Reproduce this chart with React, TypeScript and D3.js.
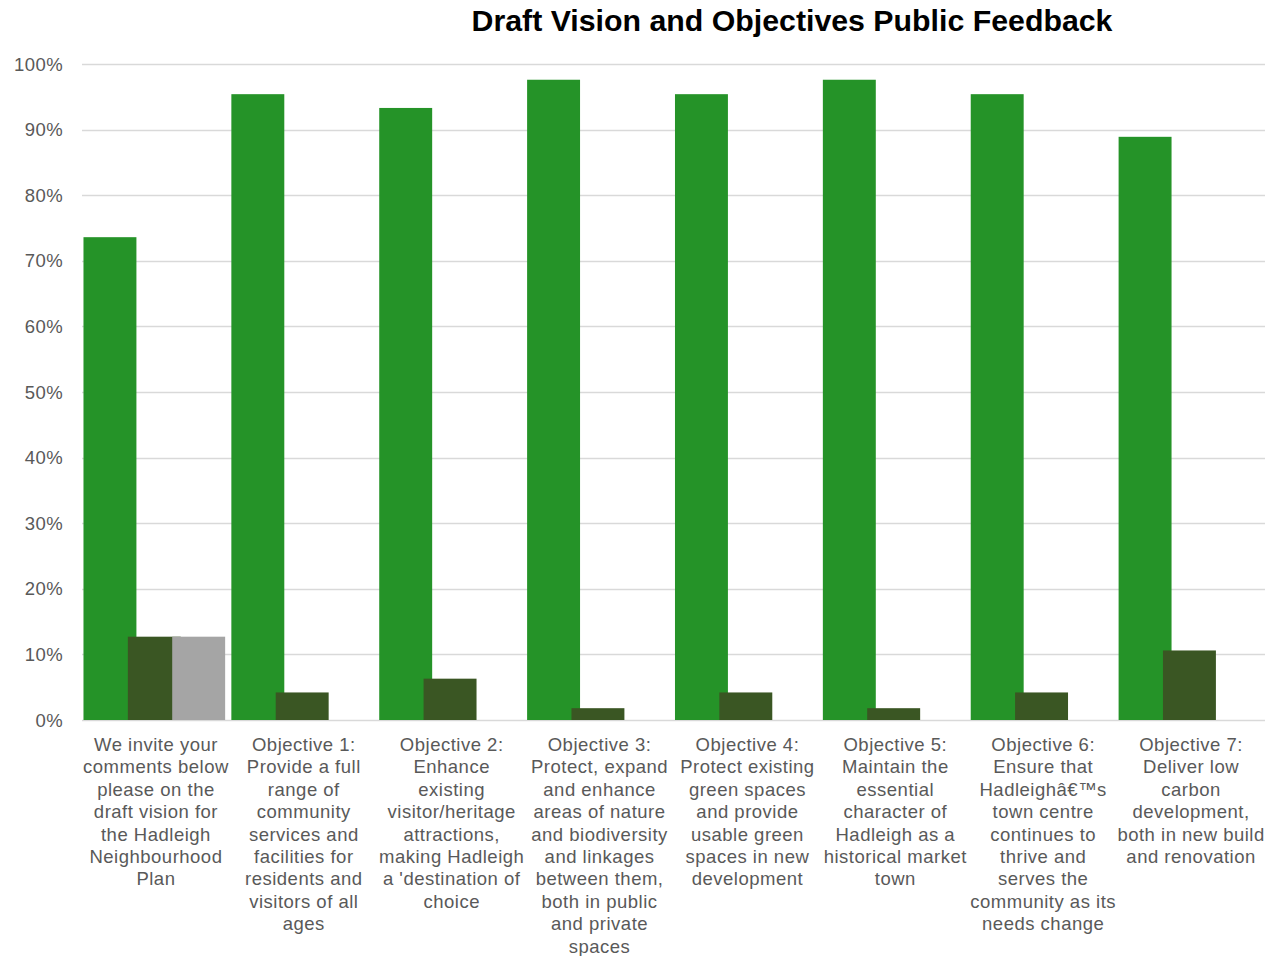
import React from "react";
import * as d3 from "d3";

const title = "Draft Vision and Objectives Public Feedback";

const categories: string[][] = [
  ["We invite your", "comments below", "please on the", "draft vision for", "the Hadleigh", "Neighbourhood", "Plan"],
  ["Objective 1:", "Provide a full", "range of", "community", "services and", "facilities for", "residents and", "visitors of all", "ages"],
  ["Objective 2:", "Enhance", "existing", "visitor/heritage", "attractions,", "making Hadleigh", "a 'destination of", "choice"],
  ["Objective 3:", "Protect, expand", "and enhance", "areas of nature", "and biodiversity", "and linkages", "between them,", "both in public", "and private", "spaces"],
  ["Objective 4:", "Protect existing", "green spaces", "and provide", "usable green", "spaces in new", "development"],
  ["Objective 5:", "Maintain the", "essential", "character of", "Hadleigh as a", "historical market", "town"],
  ["Objective 6:", "Ensure that", "Hadleighâ€™s", "town centre", "continues to", "thrive and", "serves the", "community as its", "needs change"],
  ["Objective 7:", "Deliver low", "carbon", "development,", "both in new build", "and renovation"],
];

const seriesA = [73.6, 95.4, 93.3, 97.6, 95.4, 97.6, 95.4, 88.9];
const seriesB = [12.7, 4.2, 6.3, 1.8, 4.2, 1.8, 4.2, 10.6];
const seriesC = [12.7, 0, 0, 0, 0, 0, 0, 0];

const yTicks = [0, 10, 20, 30, 40, 50, 60, 70, 80, 90, 100];

const seriesColors = ["#259328", "#3a5623", "#a5a5a5"];

export default function App() {
  const W = 1281;
  const H = 956;
  const left = 82;
  const right = 1265;
  const top = 64;
  const bottom = 720;
  const font = "'Liberation Sans', Arial, Helvetica, sans-serif";

  const keys = categories.map((c, i) => String(i));
  const x = d3.scaleBand<string>().domain(keys).range([left, right]).paddingInner(0).paddingOuter(0);
  const y = d3.scaleLinear().domain([0, 100]).range([bottom, top]);
  const bw = x.bandwidth();
  const barW = bw * 0.358;
  const step = bw * 0.3;
  const offset = bw * 0.01;

  const allSeries = [seriesA, seriesB, seriesC];

  return (
    <svg width={W} height={H} style={{ position: "absolute", left: 0, top: 0, background: "#fff" }}>
      <text x={792} y={31} textAnchor="middle" fontFamily={font} fontWeight="bold" fontSize={30.3} fill="#000">
        {title}
      </text>
      {yTicks.map((t) => (
        <g key={t}>
          <line x1={left} x2={right} y1={Math.round(y(t)) + 0.5} y2={Math.round(y(t)) + 0.5} stroke="#d9d9d9" strokeWidth={1.5} />
          <text x={63} y={y(t)} dy="0.36em" textAnchor="end" fontFamily={font} fontSize={18.5} letterSpacing={0.4} fill="#595959">
            {t}%
          </text>
        </g>
      ))}
      {allSeries.map((vals, s) => (
        <g key={s}>
          {vals.map((v, i) =>
            v > 0 ? (
              <rect
                key={i}
                x={(x(keys[i]) as number) + offset + s * step}
                y={y(v)}
                width={barW}
                height={y(0) - y(v)}
                fill={seriesColors[s]}
              />
            ) : null
          )}
        </g>
      ))}
      {categories.map((lines, i) => (
        <text
          key={i}
          x={(x(keys[i]) as number) + bw / 2}
          y={751}
          textAnchor="middle"
          fontFamily={font}
          fontSize={18.5}
          letterSpacing={0.5}
          fill="#595959"
        >
          {lines.map((l, j) => (
            <tspan key={j} x={(x(keys[i]) as number) + bw / 2} dy={j === 0 ? 0 : 22.4}>
              {l}
            </tspan>
          ))}
        </text>
      ))}
    </svg>
  );
}
